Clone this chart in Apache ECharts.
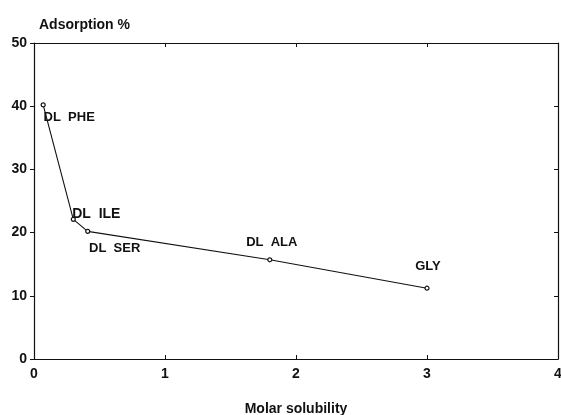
<!DOCTYPE html>
<html><head><meta charset="utf-8">
<script src="https://cdn.jsdelivr.net/npm/echarts@6/dist/echarts.min.js"></script>
<style>html,body{margin:0;padding:0;background:#fff}#c{width:561px;height:415px}</style>
</head><body><div id="c"></div>
<script>
const names = ['DL  PHE','DL  ILE','DL  SER','DL  ALA','GLY'];
const solubility = [0.07, 0.30, 0.41, 1.80, 3.00];
const adsorption = [40.2, 22.1, 20.2, 15.7, 11.2];
const xTicks = [0,1,2,3,4];
const yTicks = [0,10,20,30,40,50];
const labelOffsets = [[26,12],[23,-5],[27,17],[2,-17],[1,-22]];
const labelSizes = [13,14,13,13,13];

const font = 'Liberation Sans, Arial, sans-serif';
const chart = echarts.init(document.getElementById('c'));
const data = solubility.map((x,i)=>({
  value:[x, adsorption[i]],
  label:{show:true, formatter:names[i], position:'inside', offset:labelOffsets[i],
    color:'#111', fontSize:labelSizes[i], fontWeight:'bold', fontFamily:font}
}));
const axisLine = {show:true, onZero:false, lineStyle:{color:'#111', width:1.2}};
chart.setOption({
  animation:false,
  backgroundColor:'#fff',
  grid:{left:34, right:3, top:43, bottom:56, containLabel:false, outerBoundsMode:'none'},
  title:{text:'Adsorption %', left:34, top:13, textStyle:{fontSize:14, fontWeight:'bold', color:'#111', fontFamily:font}},
  xAxis:[{
    type:'value', min:xTicks[0], max:xTicks[xTicks.length-1], interval:1,
    axisLine:axisLine, splitLine:{show:false},
    axisTick:{show:true, inside:true, length:4, lineStyle:{color:'#111'}},
    axisLabel:{color:'#111', fontSize:14, fontWeight:'bold', fontFamily:font, margin:8},
    name:'Molar solubility', nameLocation:'middle', nameGap:43,
    nameTextStyle:{color:'#111', fontSize:14, fontWeight:'bold', fontFamily:font}
  },{
    type:'value', position:'top', min:0, max:4, interval:1,
    axisLine:axisLine, splitLine:{show:false},
    axisTick:{show:true, inside:true, length:4, lineStyle:{color:'#111'}},
    axisLabel:{show:false}
  }],
  yAxis:[{
    type:'value', min:yTicks[0], max:yTicks[yTicks.length-1], interval:10,
    axisLine:axisLine, splitLine:{show:false},
    axisTick:{show:true, inside:false, length:4, lineStyle:{color:'#111'}},
    axisLabel:{color:'#111', fontSize:14, fontWeight:'bold', fontFamily:font, margin:7}
  },{
    type:'value', position:'right', min:0, max:50, interval:10,
    axisLine:axisLine, splitLine:{show:false},
    axisTick:{show:true, inside:true, length:4, lineStyle:{color:'#111'}},
    axisLabel:{show:false}
  }],
  series:[{
    type:'line', data:data, xAxisIndex:0, yAxisIndex:0,
    symbol:'circle', symbolSize:4,
    itemStyle:{color:'#fff', borderColor:'#111', borderWidth:1.2},
    lineStyle:{color:'#111', width:1.1}
  }]
});
</script></body></html>
